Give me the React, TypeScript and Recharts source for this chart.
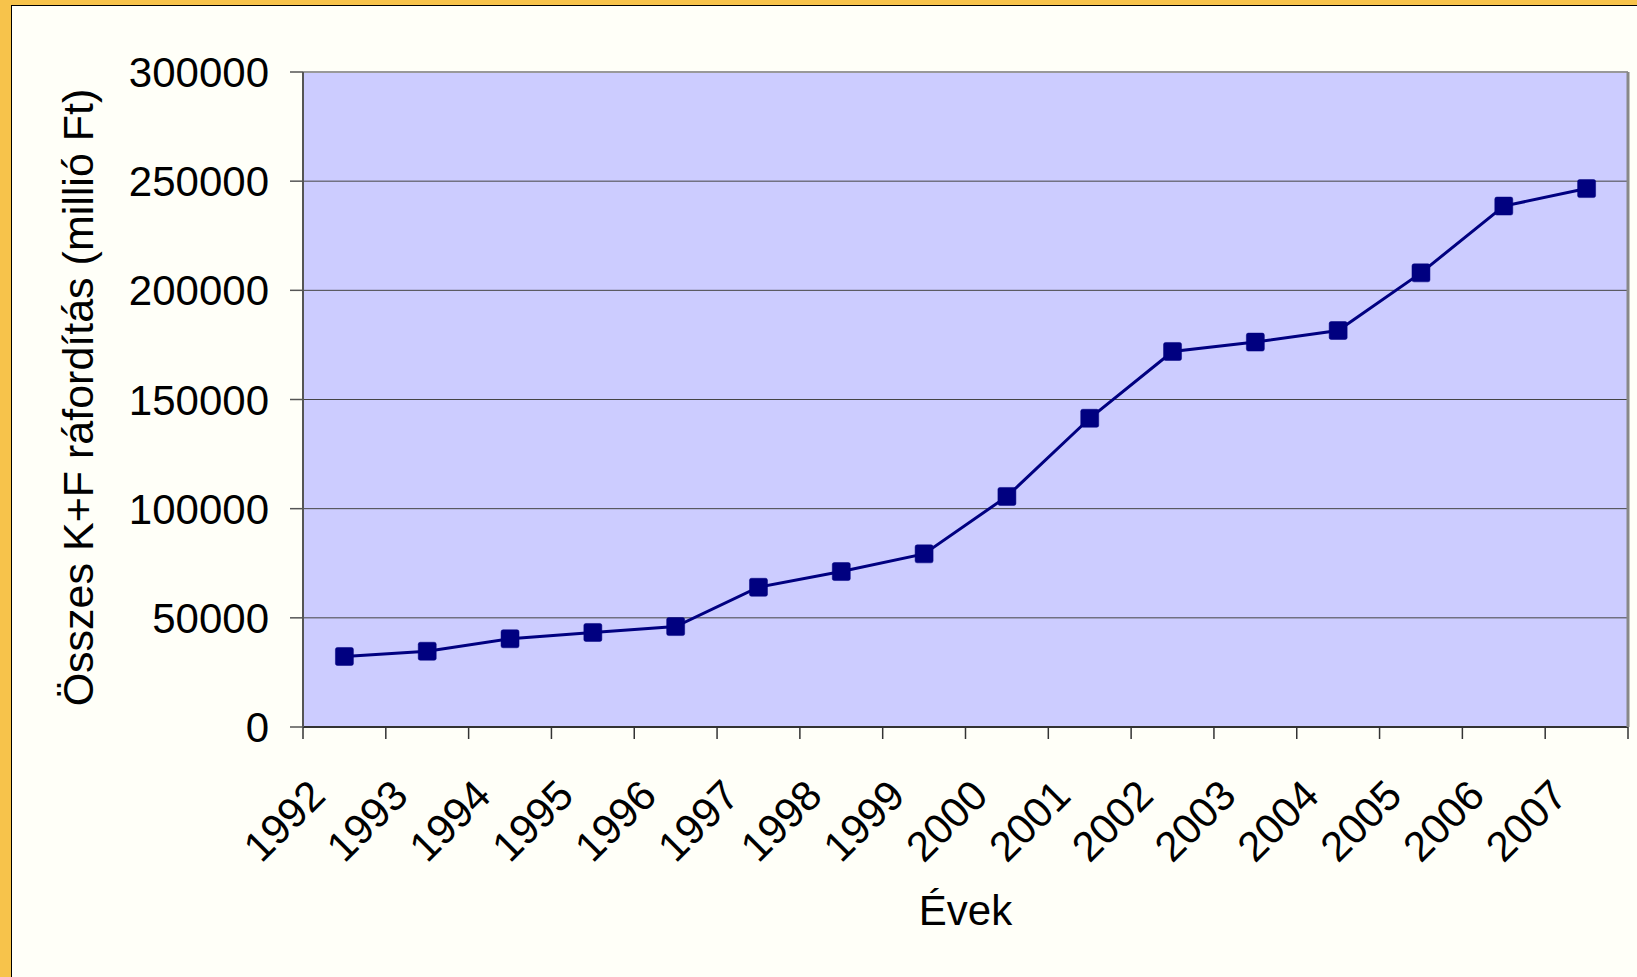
import React from 'react';
import { LineChart, Line, XAxis, YAxis, CartesianGrid } from 'recharts';

const years = ['1992', '1993', '1994', '1995', '1996', '1997', '1998', '1999', '2000', '2001', '2002', '2003', '2004', '2005', '2006', '2007'];
const spending = [32300, 34700, 40400, 43300, 46000, 64000, 71200, 79300, 105600, 141400, 172000, 176300, 181600, 208000, 238600, 246600];
const yTicks = [0, 50000, 100000, 150000, 200000, 250000, 300000];
const gridValues = [50000, 100000, 150000, 200000, 250000];
const edgeTicks = [0, 1, 2, 3, 4, 5, 6, 7, 8, 9, 10, 11, 12, 13, 14, 15, 16];
const yTitle = 'Összes K+F ráfordítás (millió Ft)';
const xTitle = 'Évek';

const data = years.map((y, i) => ({ year: y, slot: i + 0.5, value: spending[i] }));

const FONT = '"Liberation Sans", Arial, sans-serif';
const FS = 42;

const SquareDot = (props: any) => {
  const { cx, cy } = props;
  if (cx == null || cy == null) return null;
  return <rect x={cx - 9} y={cy - 9} width={18} height={18} rx={2} fill="#000080" stroke="#000080" strokeWidth={0.5} />;
};

const YTick = (props: any) => {
  const { x, y, payload } = props;
  return (
    <text x={x} y={y} dy="0.36em" textAnchor="end" fontFamily={FONT} fontSize={FS} fill="#000">
      {payload.value}
    </text>
  );
};

const XTick = (props: any) => {
  const { x, y, payload } = props;
  const bx = x - 17;
  const by = y + 70;
  return (
    <text x={bx} y={by} textAnchor="end" transform={`rotate(-45, ${bx}, ${by})`} fontFamily={FONT} fontSize={FS} fill="#000">
      {payload.value}
    </text>
  );
};

const EmptyTick = () => <g />;

const YLabel = (props: any) => {
  const vb = props.viewBox || { x: 203, y: 72, width: 100, height: 655 };
  const x = vb.x - 110;
  const y = vb.y + vb.height / 2 - 2;
  return (
    <text x={x} y={y} textAnchor="middle" transform={`rotate(-90, ${x}, ${y})`} fontFamily={FONT} fontSize={43} fill="#000">
      {yTitle}
    </text>
  );
};

const XLabel = (props: any) => {
  const vb = props.viewBox || { x: 303, y: 728, width: 1325, height: 150 };
  const x = vb.x + vb.width / 2;
  const y = vb.y + 197;
  return (
    <text x={x} y={y} textAnchor="middle" fontFamily={FONT} fontSize={FS} fill="#000">
      {xTitle}
    </text>
  );
};

export default function App() {
  return (
    <div style={{ position: 'absolute', left: 0, top: 0, width: 1637, height: 977, background: '#F7C34B', overflow: 'hidden' }}>
      <div style={{ position: 'absolute', left: 11, top: 5, width: 1700, height: 1100, background: '#FFFFF8', borderLeft: '1px solid #000', borderTop: '1px solid #000', boxSizing: 'border-box' }} />
      <div style={{ position: 'absolute', left: 0, top: 0 }}>
        <LineChart width={1637} height={977} data={data} margin={{ top: 71, right: 8, left: 203, bottom: 99 }}>
          <CartesianGrid vertical={false} horizontalValues={gridValues} fill="#CCCCFF" stroke="#444" strokeWidth={1} fillOpacity={1} />
          <XAxis
            dataKey="slot"
            type="number"
            domain={[0, 16]}
            ticks={edgeTicks}
            interval={0}
            tick={EmptyTick}
            tickSize={12}
            height={1}
            axisLine={{ stroke: '#333', strokeWidth: 2 }}
            tickLine={{ stroke: '#333', strokeWidth: 1.5 }}
            allowDataOverflow
          />
          <XAxis
            xAxisId="cat"
            dataKey="year"
            scale="band"
            interval={0}
            tick={XTick}
            tickLine={false}
            axisLine={false}
            tickSize={0}
            tickMargin={0}
            height={150}
            label={<XLabel />}
          />
          <XAxis
            xAxisId="top"
            dataKey="slot"
            orientation="top"
            type="number"
            domain={[0, 16]}
            tick={EmptyTick}
            tickLine={false}
            height={1}
            axisLine={{ stroke: '#999', strokeWidth: 2 }}
            allowDataOverflow
          />
          <YAxis
            domain={[0, 300000]}
            ticks={yTicks}
            interval={0}
            width={100}
            tick={YTick}
            tickSize={13}
            tickMargin={21}
            axisLine={{ stroke: '#555', strokeWidth: 2 }}
            tickLine={{ stroke: '#555', strokeWidth: 1.5 }}
            label={<YLabel />}
          />
          <YAxis
            yAxisId="right"
            orientation="right"
            domain={[0, 300000]}
            width={1}
            tick={EmptyTick}
            tickLine={false}
            axisLine={{ stroke: '#888', strokeWidth: 3 }}
            allowDataOverflow
          />
          <Line
            yAxisId="right"
            dataKey="value"
            stroke="none"
            strokeWidth={0}
            dot={false}
            activeDot={false}
            legendType="none"
            isAnimationActive={false}
          />
          <Line
            xAxisId="top"
            yAxisId="right"
            dataKey="value"
            stroke="none"
            strokeWidth={0}
            dot={false}
            activeDot={false}
            legendType="none"
            isAnimationActive={false}
          />
          <Line
            xAxisId="cat"
            type="linear"
            dataKey="value"
            stroke="#000080"
            strokeWidth={3}
            dot={<SquareDot />}
            activeDot={false}
            isAnimationActive={false}
          />
        </LineChart>
      </div>
    </div>
  );
}
